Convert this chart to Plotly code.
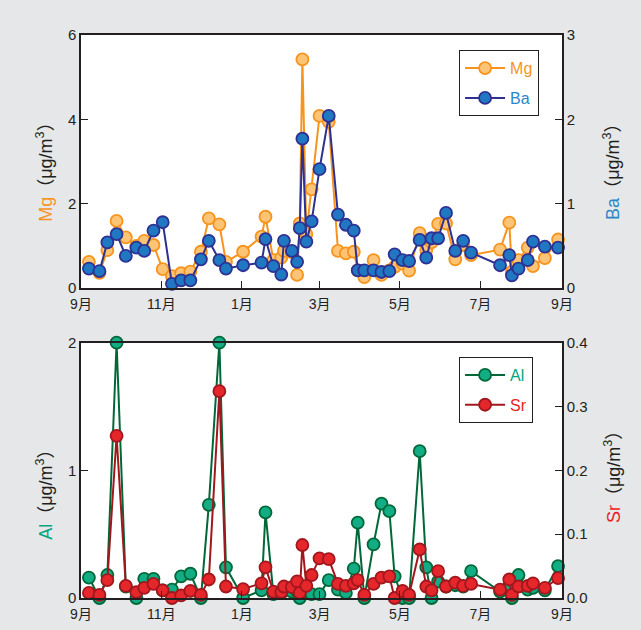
import plotly.graph_objects as go

# ---- data ----
dates = ["2013-09-07", "2013-09-15", "2013-09-21", "2013-09-28", "2013-10-05", "2013-10-13",
         "2013-10-19", "2013-10-26", "2013-11-02", "2013-11-09", "2013-11-16", "2013-11-23",
         "2013-12-01", "2013-12-07", "2013-12-15", "2013-12-20", "2014-01-02", "2014-01-16",
         "2014-01-19", "2014-01-25", "2014-01-31", "2014-02-02", "2014-02-08", "2014-02-12",
         "2014-02-14", "2014-02-16", "2014-02-19", "2014-02-23", "2014-03-01", "2014-03-08",
         "2014-03-15", "2014-03-21", "2014-03-27", "2014-03-30", "2014-04-04", "2014-04-11",
         "2014-04-17", "2014-04-23", "2014-04-27", "2014-05-03", "2014-05-08", "2014-05-16",
         "2014-05-21", "2014-05-25", "2014-05-30", "2014-06-05", "2014-06-12", "2014-06-18",
         "2014-06-24", "2014-07-16", "2014-07-23", "2014-07-25", "2014-07-30", "2014-08-06",
         "2014-08-10", "2014-08-19", "2014-08-29"]

mg = [0.62, 0.36, 0.90, 1.59, 1.20, 1.00, 1.12, 1.02, 0.45, 0.28,
      0.35, 0.39, 0.86, 1.65, 1.51, 0.62, 0.86, 1.22, 1.69, 0.66,
      0.72, 0.88, 0.85, 0.31, 1.53, 5.42, 1.28, 2.34, 4.08, 3.94,
      0.88, 0.82, 0.86, 0.42, 0.26, 0.66, 0.31, 0.42, 0.50, 0.58,
      0.41, 1.30, 0.90, 1.08, 1.52, 1.53, 0.68, 1.02, 0.78, 0.91,
      1.55, 0.39, 0.66, 0.96, 0.52, 0.71, 1.15]

ba = [0.23, 0.20, 0.54, 0.64, 0.38, 0.48, 0.44, 0.68, 0.78, 0.05,
      0.09, 0.09, 0.34, 0.56, 0.33, 0.23, 0.27, 0.30, 0.58, 0.26,
      0.16, 0.56, 0.44, 0.31, 0.71, 1.77, 0.55, 0.79, 1.41, 2.04,
      0.87, 0.75, 0.68, 0.21, 0.21, 0.21, 0.19, 0.20, 0.40, 0.33,
      0.32, 0.57, 0.36, 0.59, 0.59, 0.89, 0.44, 0.56, 0.42, 0.27,
      0.39, 0.15, 0.23, 0.33, 0.55, 0.49, 0.48]

al = [0.16, 0.00, 0.18, 2.00, 0.09, 0.00, 0.15, 0.15, 0.06, 0.065,
      0.17, 0.19, 0.00, 0.73, 2.00, 0.24, 0.00, 0.06, 0.67, 0.03,
      0.04, 0.06, 0.05, 0.05, 0.00, 0.06, 0.05, 0.03, 0.03, 0.14,
      0.065, 0.04, 0.23, 0.59, 0.00, 0.42, 0.74, 0.68, 0.17, 0.00,
      0.00, 1.15, 0.24, 0.00, 0.13, 0.09, 0.10, 0.09, 0.21, 0.05,
      0.10, 0.00, 0.18, 0.065, 0.08, 0.06, 0.25]

sr = [0.008, 0.005, 0.028, 0.254, 0.019, 0.009, 0.016, 0.022, 0.012, 0.000,
      0.004, 0.011, 0.005, 0.029, 0.324, 0.018, 0.014, 0.023, 0.048, 0.010,
      0.009, 0.018, 0.017, 0.026, 0.008, 0.083, 0.019, 0.036, 0.062, 0.061,
      0.022, 0.019, 0.023, 0.028, 0.005, 0.022, 0.032, 0.034, 0.000, 0.011,
      0.005, 0.076, 0.018, 0.012, 0.042, 0.018, 0.024, 0.019, 0.022, 0.013,
      0.029, 0.005, 0.018, 0.019, 0.023, 0.016, 0.031]

month_ticks = ["2013-09-01", "2013-11-01", "2014-01-01", "2014-03-01",
               "2014-05-01", "2014-07-01", "2014-09-01"]
month_labels = ["9月", "11月", "1月", "3月", "5月", "7月", "9月"]

# ---- styles ----
FONT = "Liberation Sans, Arial, Noto Sans CJK SC, sans-serif"
TXT = "#231f20"
BG = "#e6e7e8"

def trace(x, y, name, line_c, fill_c, xa, ya, legend):
    return go.Scatter(
        x=x, y=y, name=name, mode="lines+markers", xaxis=xa, yaxis=ya,
        line=dict(color=line_c, width=2),
        marker=dict(size=12, color=fill_c, line=dict(color=line_c, width=1.8)),
        cliponaxis=False, legend=legend, legendgroup=name,
    )

fig = go.Figure()
fig.add_trace(trace(dates, mg, "<span style='color:#f7941d'>Mg</span>", "#f7941d", "#fdc476", "x", "y", "legend"))
fig.add_trace(trace(dates, ba, "<span style='color:#2b86c8'>Ba</span>", "#2e3192", "#1f78c1", "x", "y2", "legend"))
fig.add_trace(trace(dates, al, "<span style='color:#00a67e'>Al</span>", "#006838", "#12ad84", "x2", "y3", "legend2"))
fig.add_trace(trace(dates, sr, "<span style='color:#ed1c24'>Sr</span>", "#a0181e", "#e5262b", "x2", "y4", "legend2"))

axis_common = dict(showline=True, linecolor=TXT, linewidth=1.5, ticks="inside", ticklen=7,
                   tickcolor=TXT, tickwidth=1.3, showgrid=False, zeroline=False,
                   automargin=False,
                   tickfont=dict(family=FONT, size=15, color=TXT))
xcommon = dict(axis_common, type="date", range=["2013-09-01", "2014-09-01"],
               tickvals=month_ticks, ticktext=month_labels, mirror=True,
               ticklabelstandoff=2,
               tickfont=dict(family=FONT, size=14, color=TXT))

top_dom = [0.5506, 1.0]
bot_dom = [0.0, 0.4535]

fig.update_layout(
    width=641, height=630,
    margin=dict(l=81, r=79, t=35, b=32),
    paper_bgcolor=BG, plot_bgcolor="white",
    font=dict(family=FONT, color=TXT),
    xaxis=dict(xcommon, domain=[0, 1], anchor="y"),
    yaxis=dict(axis_common, domain=top_dom, range=[0, 6], tickvals=[0, 2, 4, 6], anchor="x", mirror=False),
    yaxis2=dict(axis_common, overlaying="y", side="right", range=[0, 3], tickvals=[0, 1, 2, 3], anchor="x"),
    xaxis2=dict(xcommon, domain=[0, 1], anchor="y3"),
    yaxis3=dict(axis_common, domain=bot_dom, range=[0, 2], tickvals=[0, 1, 2], anchor="x2"),
    yaxis4=dict(axis_common, overlaying="y3", side="right", range=[0, 0.4],
                tickvals=[0, 0.1, 0.2, 0.3, 0.4], ticktext=["0.0", "0.1", "0.2", "0.3", "0.4"], anchor="x2"),
    legend=dict(x=0.786, y=0.973, xanchor="left", yanchor="top", bgcolor="white",
                bordercolor=TXT, borderwidth=1, font=dict(family=FONT, size=16),
                tracegroupgap=6, traceorder="grouped", itemwidth=40),
    legend2=dict(x=0.786, y=0.428, xanchor="left", yanchor="top", bgcolor="white",
                 bordercolor=TXT, borderwidth=1, font=dict(family=FONT, size=16),
                 tracegroupgap=6, traceorder="grouped", itemwidth=40),
    showlegend=True,
)

def title_ann(text, x, y):
    return dict(text=text, x=x, y=y, xref="paper", yref="paper", showarrow=False,
                textangle=-90, xanchor="center", yanchor="middle",
                font=dict(family=FONT, size=18, color=TXT))

unit = "（μg/m<sup>3</sup>）"
fig.update_layout(annotations=[
    title_ann("<span style='color:#f7941d'>Mg</span>" + unit, -0.075, 0.764),
    title_ann("<span style='color:#2b86c8'>Ba</span>" + unit, 1.104, 0.764),
    title_ann("<span style='color:#00a67e'>Al</span>" + unit, -0.075, 0.192),
    title_ann("<span style='color:#ed1c24'>Sr</span>" + unit, 1.104, 0.222),
])

fig.write_html("out.html", config={"displayModeBar": False},
               post_script="document.body.style.margin='0';document.body.style.background='#e6e7e8';")
